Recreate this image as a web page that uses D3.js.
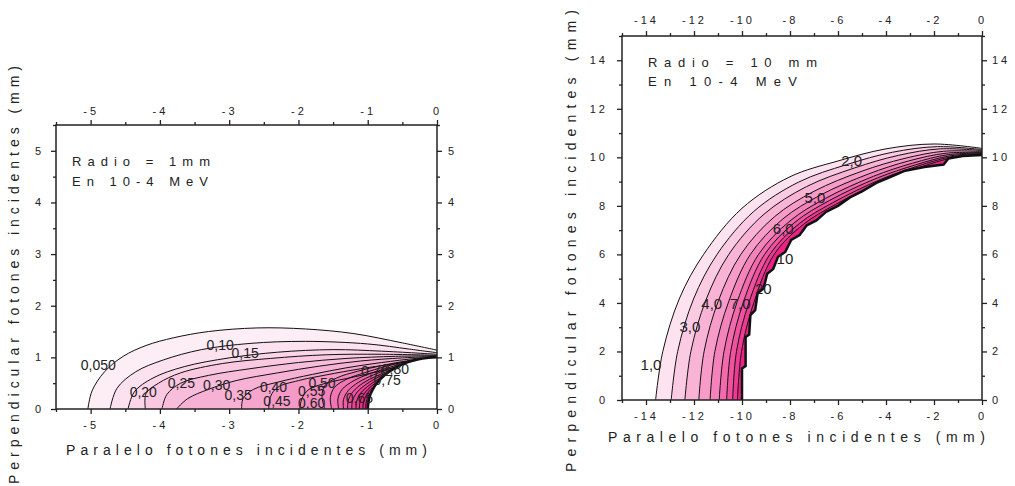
<!DOCTYPE html>
<html>
<head>
<meta charset="utf-8">
<script src="https://cdn.jsdelivr.net/npm/d3@7"></script>
<style>
  body { margin: 0; background: #fff; }
  text { font-family: "Liberation Sans", Arial, sans-serif; fill: #222; }
  .tick text { letter-spacing: 3px; }
</style>
</head>
<body>
<script>
// ---- left panel (radius 1 mm) ----
const leftLevels = ["0,05","0,10","0,15","0,20","0,25","0,30","0,35","0,40","0,45","0,50","0,55","0,60","0,65","0,70","0,75","0,80","0,85","0,90","0,95"];
const leftContours = [
  [[-5.04,0],[-4.98,0.35],[-4.8,0.72],[-4.53,1.02],[-4.2,1.23],[-3.8,1.38],[-3.3,1.5],[-2.6,1.57],[-1.9,1.55],[-1.2,1.46],[-0.5,1.28],[0,1.14]],
  [[-4.72,0],[-4.62,0.4],[-4.35,0.72],[-3.95,0.95],[-3.4,1.15],[-2.7,1.27],[-1.9,1.31],[-1.0,1.26],[-0.4,1.16],[0,1.09]],
  [[-4.46,0],[-4.37,0.33],[-4.1,0.6],[-3.65,0.82],[-3.0,0.99],[-2.3,1.1],[-1.5,1.15],[-0.8,1.12],[0,1.06]],
  [[-4.21,0],[-4.2,0.3],[-4.02,0.5],[-3.7,0.7],[-3.1,0.88],[-2.4,0.98],[-1.6,1.05],[-0.8,1.06],[0,1.04]],
  [[-3.97,0],[-3.9,0.28],[-3.7,0.5],[-3.3,0.65],[-2.7,0.78],[-2.0,0.9],[-1.3,0.98],[-0.6,1.02],[0,1.03]],
  [[-3.76,0],[-3.6,0.2],[-3.3,0.38],[-2.9,0.55],[-2.3,0.7],[-1.7,0.83],[-1.1,0.93],[-0.5,0.99],[0,1.02]],
  [[-2.82,0],[-2.8,0.2],[-2.65,0.38],[-2.3,0.52],[-1.8,0.67],[-1.3,0.8],[-0.8,0.9],[-0.3,0.98],[0,1.01]],
  [[-2.43,0],[-2.4,0.25],[-2.3,0.42],[-2.0,0.55],[-1.6,0.66],[-1.1,0.78],[-0.6,0.88],[-0.2,0.97],[0,1.0]],
  [[-1.98,0],[-1.95,0.2],[-1.85,0.38],[-1.6,0.5],[-1.2,0.62],[-0.8,0.74],[-0.4,0.87],[-0.1,0.97],[0,1.0]],
  [[-1.62,0],[-1.66,0.25],[-1.62,0.45],[-1.45,0.6],[-1.15,0.73],[-0.8,0.84],[-0.4,0.94],[0,1.0]],
  [[-1.52,0],[-1.54,0.22],[-1.48,0.42],[-1.3,0.58],[-1.05,0.7],[-0.75,0.82],[-0.4,0.93],[0,0.99]],
  [[-1.42,0],[-1.43,0.2],[-1.37,0.38],[-1.2,0.55],[-0.98,0.68],[-0.7,0.8],[-0.38,0.92],[0,0.99]],
  [[-1.35,0],[-1.35,0.18],[-1.28,0.36],[-1.13,0.52],[-0.92,0.66],[-0.66,0.79],[-0.35,0.91],[0,0.99]],
  [[-1.29,0],[-1.28,0.17],[-1.21,0.34],[-1.07,0.5],[-0.87,0.64],[-0.62,0.78],[-0.33,0.9],[0,0.99]],
  [[-1.23,0],[-1.22,0.16],[-1.15,0.33],[-1.02,0.48],[-0.83,0.63],[-0.59,0.77],[-0.3,0.9],[0,0.99]],
  [[-1.17,0],[-1.16,0.15],[-1.1,0.31],[-0.97,0.47],[-0.79,0.62],[-0.56,0.76],[-0.28,0.89],[0,0.99]],
  [[-1.12,0],[-1.11,0.15],[-1.05,0.3],[-0.93,0.46],[-0.75,0.61],[-0.53,0.75],[-0.26,0.89],[0,0.99]],
  [[-1.07,0],[-1.06,0.14],[-1.01,0.29],[-0.9,0.45],[-0.72,0.6],[-0.5,0.74],[-0.24,0.88],[0,0.99]],
  [[-1.03,0],[-1.02,0.14],[-0.98,0.28],[-0.87,0.44],[-0.7,0.59],[-0.48,0.73],[-0.23,0.87],[0,0.99]]
];
const leftDisc = [[-1,0],[-0.99,0.12],[-0.97,0.25],[-0.93,0.37],[-0.87,0.5],[-0.8,0.6],[-0.7,0.71],[-0.58,0.81],[-0.44,0.9],[-0.28,0.96],[-0.12,0.99],[0,1.0]];
const leftLabels = [
  [-4.89,0.85,"0,050"],[-3.13,1.24,"0,10"],[-2.77,1.08,"0,15"],[-4.24,0.32,"0,20"],
  [-3.69,0.50,"0,25"],[-3.18,0.46,"0,30"],[-2.87,0.27,"0,35"],[-2.36,0.42,"0,40"],
  [-2.31,0.16,"0,45"],[-1.66,0.50,"0,50"],[-1.81,0.34,"0,55"],[-1.81,0.11,"0,60"],
  [-1.12,0.22,"0,65"],[-0.9,0.74,"0,70"],[-0.72,0.56,"0,75"],[-0.6,0.78,"0,80"]
];
const leftXMajor = [-5,-4,-3,-2,-1,0];
const leftXMinor = [-5.5,-4.5,-3.5,-2.5,-1.5,-0.5];
const leftYMajor = [0,1,2,3,4,5];
const leftYMinor = [0.5,1.5,2.5,3.5,4.5,5.5];
const leftNote = ["Radio = 1mm", "En 10-4 MeV"];

// ---- right panel (radius 10 mm) ----
const rightLevels = ["1,0","2,0","3,0","4,0","5,0","6,0","7,0","8,0","9,0"];
const rightContours = [
  [[-13.6,0],[-13.3,2],[-12.6,4.2],[-11.6,6],[-10,7.9],[-8,9.2],[-6,9.85],[-4,10.35],[-2,10.55],[0,10.37]],
  [[-12.95,0],[-12.68,2],[-12.02,4.16],[-11.04,6],[-9.51,7.77],[-7.64,8.98],[-5.64,9.7],[-3.73,10.21],[-1.86,10.44],[0,10.32]],
  [[-12.38,0],[-12.13,2],[-11.5,4.13],[-10.55,6],[-9.08,7.66],[-7.32,8.79],[-5.32,9.56],[-3.49,10.08],[-1.73,10.35],[0,10.28]],
  [[-11.8,0],[-11.58,2],[-10.98,4.1],[-10.05,6],[-8.65,7.55],[-7,8.6],[-5,9.43],[-3.25,9.95],[-1.6,10.25],[0,10.24]],
  [[-11.33,0],[-11.13,2],[-10.55,4.07],[-9.65,6],[-8.3,7.46],[-6.74,8.44],[-4.74,9.31],[-3.06,9.85],[-1.5,10.17],[0,10.2]],
  [[-10.95,0],[-10.75,2],[-10.2,4.05],[-9.31,6],[-8.0,7.38],[-6.52,8.31],[-4.52,9.22],[-2.89,9.76],[-1.41,10.11],[0,10.17]],
  [[-10.64,0],[-10.47,2],[-9.94,4.04],[-9.06,6],[-7.79,7.33],[-6.36,8.22],[-4.36,9.15],[-2.77,9.69],[-1.34,10.06],[0,10.15]],
  [[-10.39,0],[-10.23,2],[-9.71,4.02],[-8.84,6],[-7.6,7.28],[-6.22,8.13],[-4.22,9.09],[-2.67,9.64],[-1.29,10.02],[0,10.13]],
  [[-10.19,0],[-10.02,2],[-9.51,4.01],[-8.66,6],[-7.44,7.24],[-6.1,8.06],[-4.1,9.04],[-2.58,9.59],[-1.24,9.98],[0,10.11]]
];
const rightDisc = [[-10,0],[-10,1.3],[-9.85,1.4],[-9.85,2.6],[-9.7,2.7],[-9.65,3.5],[-9.45,3.7],[-9.35,4.4],[-9.1,4.6],[-8.95,5.2],[-8.7,5.4],[-8.5,5.9],[-8.2,6.1],[-7.95,6.6],[-7.6,6.8],[-7.3,7.2],[-6.9,7.4],[-6.5,7.75],[-6.0,8.0],[-5.5,8.35],[-5.0,8.6],[-4.4,8.95],[-3.8,9.2],[-3.2,9.45],[-2.4,9.6],[-1.6,9.7],[-1.4,9.95],[-0.8,10.05],[0,10.1]];
const rightLabels = [
  [-13.79,1.48,"1,0"],[-12.17,3.02,"3,0"],[-11.26,3.98,"4,0"],[-10.08,3.98,"7,0"],
  [-5.43,9.86,"2,0"],[-6.96,8.35,"5,0"],[-8.28,7.07,"6,0"],[-8.21,5.84,"10"],[-9.11,4.6,"20"]
];
const rightXMajor = [-14,-12,-10,-8,-6,-4,-2,0];
const rightXMinor = [-15,-13,-11,-9,-7,-5,-3,-1];
const rightYMajor = [0,2,4,6,8,10,12,14];
const rightYMinor = [1,3,5,7,9,11,13,15];
const rightNote = ["Radio = 10 mm", "En 10-4 MeV"];

const xTitle = "Paralelo fotones incidentes (mm)";
const yTitle = "Perpendicular fotones incidentes (mm)";

const svg = d3.select("body").append("svg")
    .attr("width", 1015)
    .attr("height", 486);

function drawPanel(p) {
    const x = d3.scaleLinear().domain(p.xDomain).range([p.left, p.right]);
    const y = d3.scaleLinear().domain(p.yDomain).range([p.bottom, p.top]);
    const g = svg.append("g");

    g.append("clipPath").attr("id", p.id + "clip")
        .append("rect")
        .attr("x", p.left).attr("y", p.top)
        .attr("width", p.right - p.left).attr("height", p.bottom - p.top);

    const plot = g.append("g").attr("clip-path", "url(#" + p.id + "clip)");

    const curve = d3.line()
        .x(d => x(d[0]))
        .y(d => y(d[1]))
        .curve(d3.curveCatmullRom.alpha(0.5));

    const color = d3.scaleLinear()
        .domain([0, p.contours.length - 1])
        .range(p.colors)
        .interpolate(d3.interpolateRgb);

    const corner = "L" + x(0) + "," + y(0) + "Z";

    // filled bands, outermost first
    plot.selectAll("path.band")
        .data(p.contours)
        .enter()
        .append("path")
        .attr("class", "band")
        .attr("d", d => curve(d) + corner)
        .attr("fill", (d, i) => color(i))
        .attr("stroke", "none");

    plot.selectAll("path.iso")
        .data(p.contours)
        .enter()
        .append("path")
        .attr("class", "iso")
        .attr("d", d => curve(d))
        .attr("fill", "none")
        .attr("stroke", "#111")
        .attr("stroke-width", 1);

    // the source cylinder cross-section
    const discLine = d3.line().x(d => x(d[0])).y(d => y(d[1])).curve(p.discCurve);
    plot.append("path")
        .attr("d", discLine(p.disc) + corner)
        .attr("fill", "#fff");
    plot.append("path")
        .attr("d", discLine(p.disc))
        .attr("fill", "none")
        .attr("stroke", "#111")
        .attr("stroke-width", p.discStroke);

    plot.selectAll("text.lab")
        .data(p.labels)
        .enter()
        .append("text")
        .attr("class", "lab")
        .attr("x", d => x(d[0]))
        .attr("y", d => y(d[1]))
        .attr("text-anchor", "middle")
        .attr("dominant-baseline", "central")
        .style("font-size", p.labelSize)
        .text(d => d[2]);

    // frame
    g.append("rect")
        .attr("x", p.left).attr("y", p.top)
        .attr("width", p.right - p.left).attr("height", p.bottom - p.top)
        .attr("fill", "none")
        .attr("stroke", "#222")
        .attr("stroke-width", 1.5);

    const fmt = d => String(d);
    const axes = [
        [d3.axisBottom(x), "translate(0," + p.bottom + ")", p.xMajor, p.xMinor, p.padB],
        [d3.axisTop(x), "translate(0," + p.top + ")", p.xMajor, p.xMinor, p.padT],
        [d3.axisLeft(y), "translate(" + p.left + ",0)", p.yMajor, p.yMinor, p.padL],
        [d3.axisRight(y), "translate(" + p.right + ",0)", p.yMajor, p.yMinor, p.padR]
    ];
    axes.forEach(([ax, tr, major, minor, pad]) => {
        const a = g.append("g").attr("transform", tr)
            .call(ax.tickValues(major).tickSize(5).tickPadding(pad).tickFormat(fmt));
        a.select(".domain").remove();
        a.selectAll("line").attr("stroke", "#222").attr("stroke-width", 1.3);
        a.selectAll("text").style("font-size", "11px").attr("fill", "#222");
        const m = g.append("g").attr("transform", tr)
            .call(ax.tickValues(minor).tickSize(3).tickFormat(""));
        m.select(".domain").remove();
        m.selectAll("line").attr("stroke", "#222").attr("stroke-width", 1.3);
    });

    // notes
    g.selectAll("text.note")
        .data(p.note)
        .enter()
        .append("text")
        .attr("class", "note")
        .attr("x", p.noteX)
        .attr("y", (d, i) => p.noteY[i])
        .attr("textLength", (d, i) => p.noteW[i])
        .attr("lengthAdjust", "spacing")
        .style("font-size", "13px")
        .text(d => d);

    // axis titles
    g.append("text")
        .attr("x", p.xTitleX)
        .attr("y", p.xTitleY)
        .attr("textLength", p.xTitleW)
        .attr("lengthAdjust", "spacing")
        .style("font-size", "14px")
        .text(xTitle);

    g.append("text")
        .attr("transform", "translate(" + p.yTitleX + "," + p.yTitleY + ") rotate(-90)")
        .attr("textLength", p.yTitleW)
        .attr("lengthAdjust", "spacing")
        .style("font-size", "14px")
        .text(yTitle);
}

drawPanel({
    id: "l",
    xDomain: [-5.5, 0], yDomain: [0, 5.5],
    left: 56, right: 437, top: 125, bottom: 409,
    contours: leftContours, levels: leftLevels,
    colors: ["#fdedf5", "#e8157e"],
    disc: leftDisc, discCurve: d3.curveCatmullRom, discStroke: 2.5,
    labels: leftLabels, labelSize: "14px",
    xMajor: leftXMajor, xMinor: leftXMinor, yMajor: leftYMajor, yMinor: leftYMinor,
    padB: 7, padT: 5, padL: 7, padR: 6,
    note: leftNote, noteX: 72, noteY: [166, 186], noteW: [138, 136],
    xTitleX: 66, xTitleY: 455, xTitleW: 361,
    yTitleX: 19, yTitleY: 484, yTitleW: 418
});

drawPanel({
    id: "r",
    xDomain: [-15, 0], yDomain: [0, 15],
    left: 622, right: 982, top: 36, bottom: 400,
    contours: rightContours, levels: rightLevels,
    colors: ["#fde3f0", "#ec2285"],
    disc: rightDisc, discCurve: d3.curveLinear, discStroke: 2.5,
    labels: rightLabels, labelSize: "15px",
    xMajor: rightXMajor, xMinor: rightXMinor, yMajor: rightYMajor, yMinor: rightYMinor,
    padB: 7, padT: 7, padL: 9, padR: 5,
    note: rightNote, noteX: 648, noteY: [67, 86], noteW: [169, 149],
    xTitleX: 608, xTitleY: 442, xTitleW: 377,
    yTitleX: 576, yTitleY: 472, yTitleW: 462
});
</script>
</body>
</html>
